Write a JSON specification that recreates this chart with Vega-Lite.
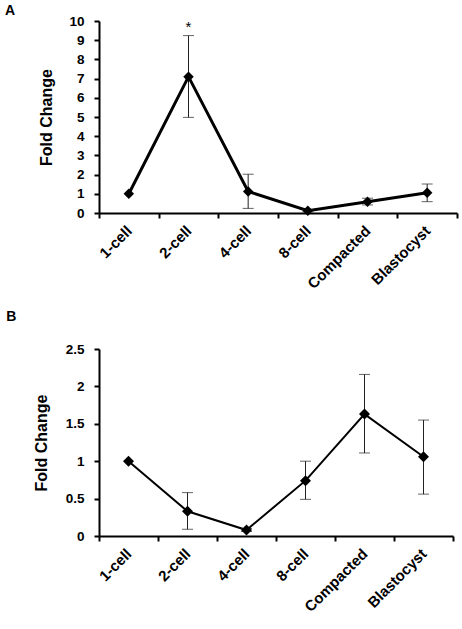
{
  "$schema": "https://vega.github.io/schema/vega-lite/v6.json",
  "padding": {"left": 4, "top": 4, "right": 5, "bottom": 5},
  "background": "white",
  "datasets": {
    "a": [
      {"stage": "1-cell", "fc": 1.0, "lo": null, "hi": null},
      {"stage": "2-cell", "fc": 7.1, "lo": 4.98, "hi": 9.24},
      {"stage": "4-cell", "fc": 1.12, "lo": 0.24, "hi": 2.02},
      {"stage": "8-cell", "fc": 0.12, "lo": 0.06, "hi": 0.18},
      {"stage": "Compacted", "fc": 0.59, "lo": 0.42, "hi": 0.77},
      {"stage": "Blastocyst", "fc": 1.06, "lo": 0.59, "hi": 1.51}
    ],
    "b": [
      {"stage": "1-cell", "fc": 1.0, "lo": null, "hi": null},
      {"stage": "2-cell", "fc": 0.33, "lo": 0.09, "hi": 0.58},
      {"stage": "4-cell", "fc": 0.08, "lo": 0.06, "hi": 0.1},
      {"stage": "8-cell", "fc": 0.74, "lo": 0.49, "hi": 1.0},
      {"stage": "Compacted", "fc": 1.63, "lo": 1.11, "hi": 2.16},
      {"stage": "Blastocyst", "fc": 1.06, "lo": 0.56, "hi": 1.55}
    ],
    "stars": [
      {"stage": "2-cell", "y": 9.45, "label": "*"}
    ]
  },
  "config": {
    "view": {"stroke": null},
    "font": "Liberation Sans",
    "axis": {
      "domainColor": "black",
      "domainWidth": 2,
      "tickColor": "black",
      "tickWidth": 2,
      "tickSize": 5,
      "grid": false,
      "labelOverlap": false,
      "labelColor": "black",
      "labelFont": "Liberation Sans",
      "labelFontWeight": "bold",
      "labelFontSize": 13.5,
      "titleColor": "black",
      "titleFont": "Liberation Sans",
      "titleFontWeight": "bold",
      "titleFontSize": 16
    },
    "title": {"font": "Liberation Sans", "fontWeight": "bold", "fontSize": 14, "color": "black", "anchor": "start", "frame": "bounds"}
  },
  "spacing": 18,
  "vconcat": [
    {
      "width": 358,
      "height": 192,
      "title": {"text": "A", "dx": -34, "offset": -4},
      "encoding": {
        "x": {
          "field": "stage", "type": "nominal", "sort": null,
          "scale": {"type": "band", "paddingInner": 0, "paddingOuter": 0, "domain": ["1-cell", "2-cell", "4-cell", "8-cell", "Compacted", "Blastocyst"]},
          "axis": {"title": null, "tickBand": "extent", "labelAngle": -45, "labelAlign": "right", "labelBaseline": "middle", "labelPadding": 10, "labelFontSize": 15}
        }
      },
      "layer": [
        {
          "data": {"name": "a"},
          "mark": {"type": "line", "color": "black", "strokeWidth": 3},
          "encoding": {
            "y": {
              "field": "fc", "type": "quantitative",
              "scale": {"domain": [0, 10], "nice": false},
              "axis": {"title": "Fold Change", "values": [0,1,2,3,4,5,6,7,8,9,10], "tickCount": 20, "labelExpr": "datum.value + ''", "labelPadding": 10, "titlePadding": 14}
            }
          }
        },
        {
          "data": {"name": "a"},
          "mark": {"type": "rule", "color": "#222", "strokeWidth": 1},
          "encoding": {
            "y": {"field": "lo", "type": "quantitative"},
            "y2": {"field": "hi"}
          }
        },
        {
          "data": {"name": "a"},
          "mark": {"type": "tick", "color": "#222", "thickness": 1, "size": 11},
          "encoding": {"y": {"field": "lo", "type": "quantitative"}}
        },
        {
          "data": {"name": "a"},
          "mark": {"type": "tick", "color": "#222", "thickness": 1, "size": 11},
          "encoding": {"y": {"field": "hi", "type": "quantitative"}}
        },
        {
          "data": {"name": "a"},
          "mark": {"type": "point", "shape": "diamond", "filled": true, "color": "black", "opacity": 1, "size": 110},
          "encoding": {"y": {"field": "fc", "type": "quantitative"}}
        },
        {
          "data": {"name": "stars"},
          "mark": {"type": "text", "fontSize": 15, "color": "black", "baseline": "alphabetic"},
          "encoding": {"y": {"field": "y", "type": "quantitative"}, "text": {"field": "label"}}
        }
      ]
    },
    {
      "width": 354,
      "height": 187,
      "title": {"text": "B", "dx": -27, "offset": 18},
      "encoding": {
        "x": {
          "field": "stage", "type": "nominal", "sort": null,
          "scale": {"type": "band", "paddingInner": 0, "paddingOuter": 0, "domain": ["1-cell", "2-cell", "4-cell", "8-cell", "Compacted", "Blastocyst"]},
          "axis": {"title": null, "tickBand": "extent", "labelAngle": -45, "labelAlign": "right", "labelBaseline": "middle", "labelPadding": 10, "labelFontSize": 15}
        }
      },
      "layer": [
        {
          "data": {"name": "b"},
          "mark": {"type": "line", "color": "black", "strokeWidth": 2},
          "encoding": {
            "y": {
              "field": "fc", "type": "quantitative",
              "scale": {"domain": [0, 2.5], "nice": false},
              "axis": {"title": "Fold Change", "values": [0, 0.5, 1, 1.5, 2, 2.5], "tickCount": 20, "labelExpr": "datum.value + ''", "labelPadding": 10, "titlePadding": 16}
            }
          }
        },
        {
          "data": {"name": "b"},
          "mark": {"type": "rule", "color": "#222", "strokeWidth": 1},
          "encoding": {
            "y": {"field": "lo", "type": "quantitative"},
            "y2": {"field": "hi"}
          }
        },
        {
          "data": {"name": "b"},
          "mark": {"type": "tick", "color": "#222", "thickness": 1, "size": 11},
          "encoding": {"y": {"field": "lo", "type": "quantitative"}}
        },
        {
          "data": {"name": "b"},
          "mark": {"type": "tick", "color": "#222", "thickness": 1, "size": 11},
          "encoding": {"y": {"field": "hi", "type": "quantitative"}}
        },
        {
          "data": {"name": "b"},
          "mark": {"type": "point", "shape": "diamond", "filled": true, "color": "black", "opacity": 1, "size": 120},
          "encoding": {"y": {"field": "fc", "type": "quantitative"}}
        }
      ]
    }
  ]
}
